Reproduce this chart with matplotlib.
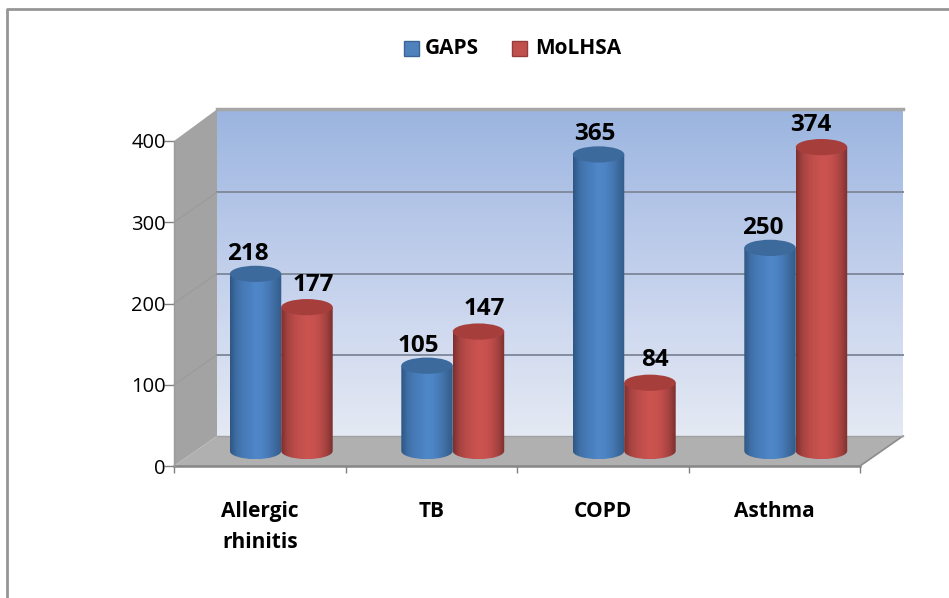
import matplotlib
matplotlib.use('Agg')
import matplotlib.pyplot as plt
import numpy as np
from matplotlib.colors import LinearSegmentedColormap
from matplotlib.patches import Ellipse, PathPatch, Polygon, Rectangle
from matplotlib.path import Path

plt.rcParams['font.family'] = ['Open Sans', 'DejaVu Sans']

categories = ['Allergic\nrhinitis', 'TB', 'COPD', 'Asthma']
gaps = [218, 105, 365, 250]
molhsa = [177, 147, 84, 374]
yticks = [0, 100, 200, 300, 400]

# value labels sit off-centre on the cylinders in the original
gaps_shift = [-0.047, -0.052, -0.023, -0.04]
molhsa_shift = [0.035, 0.035, 0.03, -0.06]

W, H = 949, 598
fig = plt.figure(figsize=(W / 100, H / 100), dpi=100, facecolor='white')

# front plane of the fake 3d box, in pixels
left, right, bottom, top = 174, 860, 466, 141
ax = fig.add_axes([left / W, 1 - bottom / H, (right - left) / W, (bottom - top) / H])
ax.patch.set_visible(False)
for s in ax.spines.values():
    s.set_visible(False)

dx = 43 / 171.5   # depth offset in category units
dy = 30 / 0.8125  # depth offset in value units
wall_top = 400 + dy + 2

# back wall
wall = LinearSegmentedColormap.from_list('wall', ['#9bb5e0', '#b6c7e8', '#cfd9ef', '#e4e9f3'])
ax.imshow(np.linspace(0, 1, 256).reshape(-1, 1), cmap=wall, aspect='auto', zorder=1,
          extent=(dx, 4 + dx, dy, wall_top), origin='upper', clip_on=False)
ax.plot([dx, 4 + dx], [wall_top, wall_top], color='#a6a6a6', lw=2.5, zorder=2, clip_on=False)

# left wall and floor
ax.add_patch(Polygon([(0, 0), (dx, dy), (dx, wall_top), (0, 400)], fc='#a3a3a3', ec='none',
                     zorder=2, clip_on=False))
ax.add_patch(Polygon([(0, 0), (4, 0), (4 + dx, dy), (dx, dy)], fc='#b0b0b0', ec='none',
                     zorder=2, clip_on=False))
ax.plot([0, 4], [0, 0], color='#868686', lw=1.8, zorder=3, clip_on=False)
ax.plot([0, 0], [0, 400], color='#9a9a9a', lw=1, zorder=3, clip_on=False)
ax.plot([4, 4 + dx], [0, dy], color='#8c8c8c', lw=1.2, zorder=3, clip_on=False)
ax.plot([dx, 4 + dx], [dy, dy], color='#a0a0a0', lw=1, zorder=3, clip_on=False)

# gridlines
for v in yticks[1:4]:
    ax.plot([dx, 4 + dx], [v + dy, v + dy], color='#828c9e', lw=1.4, zorder=3, clip_on=False)
    ax.plot([0, dx], [v, v + dy], color='#999999', lw=0.7, zorder=3, clip_on=False)

# ticks
ax.set_xticks(range(5))
ax.set_xticklabels([])
ax.set_yticks(yticks)
ax.set_yticklabels(yticks, fontsize=14.5, color='black')
ax.tick_params(axis='x', length=5, width=1, color='#808080', top=False)
ax.tick_params(axis='y', length=7, width=1, color='#808080', pad=-1)
for i, c in enumerate(categories):
    ax.text(i + 0.5, -43, c, ha='center', va='top', fontsize=15, fontweight='bold',
            linespacing=1.63, clip_on=False)


def cylinder(cx, val, colors, cap, order):
    w = 0.3
    base = dy / 2
    hgt = 10
    x0, x1 = cx - w / 2, cx + w / 2
    k = 0.5523
    verts = [(x0, base + val), (x1, base + val), (x1, base),
             (x1, base - hgt * k), (cx + w / 2 * k, base - hgt), (cx, base - hgt),
             (cx - w / 2 * k, base - hgt), (x0, base - hgt * k), (x0, base),
             (x0, base + val)]
    codes = [Path.MOVETO, Path.LINETO, Path.LINETO,
             Path.CURVE4, Path.CURVE4, Path.CURVE4,
             Path.CURVE4, Path.CURVE4, Path.CURVE4, Path.CLOSEPOLY]
    cm = LinearSegmentedColormap.from_list('cyl', colors)
    im = ax.imshow(np.linspace(0, 1, 128).reshape(1, -1), cmap=cm, aspect='auto', zorder=order,
                   extent=(x0, x1, base - hgt, base + val))
    clip = PathPatch(Path(verts, codes), transform=ax.transData, fc='none', ec='none')
    ax.add_patch(clip)
    im.set_clip_path(clip)
    ax.add_patch(Ellipse((cx, base + val), w, hgt * 2, fc=cap, ec='none', zorder=order + 0.1,
                         clip_on=False))


blue = ['#2f5683', '#3f6fa6', '#467ab6', '#4a80c0', '#4f87c8', '#4c84c4', '#4679b5', '#3d6b9f', '#315a88']
red = ['#7d302e', '#a54341', '#b94b48', '#c4504d', '#cb5350', '#c9524f', '#bd4c49', '#a34240', '#7b2f2d']

for i in range(4):
    cx = i + 0.5 + dx / 2
    cylinder(cx - 0.15, gaps[i], blue, '#3d6a9c', 5)
    cylinder(cx + 0.15, molhsa[i], red, '#a63f3c', 6)
    ax.text(cx - 0.15 + gaps_shift[i], gaps[i] + dy / 2 + 10, str(gaps[i]), ha='center', va='bottom',
            fontsize=17.5, fontweight='bold', zorder=8, clip_on=False)
    ax.text(cx + 0.15 + molhsa_shift[i], molhsa[i] + dy / 2 + 13, str(molhsa[i]), ha='center', va='bottom',
            fontsize=17.5, fontweight='bold', zorder=8, clip_on=False)
ax.set_xlim(0, 4)
ax.set_ylim(0, 400)

# outer frame + legend in figure pixels
px = fig.add_axes([0, 0, 1, 1], zorder=-1)
px.set_xlim(0, W)
px.set_ylim(H, 0)
px.axis('off')
px.plot([7, 7, W], [H, 9, 9], color='#969696', lw=2)

lg = fig.add_axes([0, 0, 1, 1], zorder=5)
lg.set_xlim(0, W)
lg.set_ylim(H, 0)
lg.axis('off')
lg.add_patch(Rectangle((404, 41), 15, 15, fc='#4f81bd', ec='#3a6595', lw=1))
lg.text(425, 48, 'GAPS', va='center', ha='left', fontsize=15, fontweight='bold')
lg.add_patch(Rectangle((512, 41), 15, 15, fc='#c0504d', ec='#943c3a', lw=1))
lg.text(535, 48, 'MoLHSA', va='center', ha='left', fontsize=15, fontweight='bold')

fig.savefig('out.png', dpi=100)
